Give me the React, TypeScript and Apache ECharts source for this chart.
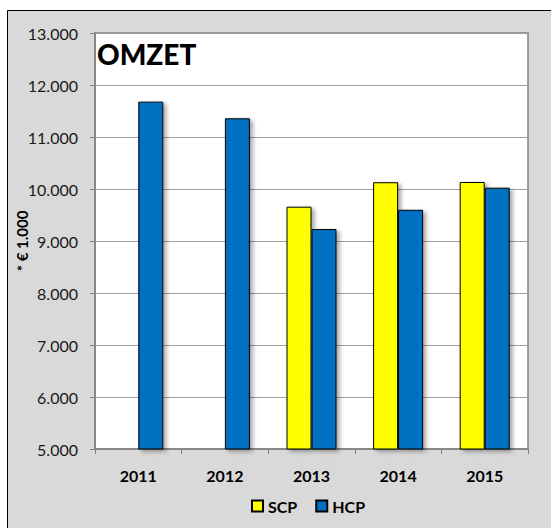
import React, { useEffect, useRef } from "react";
import * as echarts from "echarts";

const years = ["2011", "2012", "2013", "2014", "2015"];
const scpValues = [0, 0, 9660, 10130, 10135];
const hcpValues = [11680, 11360, 9230, 9600, 10025];
const yMin = 5000;
const yMax = 13000;
const yStep = 1000;
const title = "OMZET";
const yName = "* € 1.000";

const FONT = "Lato, 'Open Sans', 'Liberation Sans', sans-serif";

export default function App() {
  const ref = useRef<HTMLDivElement>(null);
  useEffect(() => {
    if (!ref.current) return;
    const chart = echarts.init(ref.current, null, { renderer: "svg" });
    const shadow = {
      shadowBlur: 4,
      shadowOffsetX: 3,
      shadowOffsetY: 2,
      shadowColor: "rgba(0,0,0,0.35)",
    };
    chart.setOption({
      animation: false,
      backgroundColor: "#ffffff",
      textStyle: { fontFamily: FONT },
      graphic: [
        {
          type: "rect",
          z: -10,
          shape: { x: 7.5, y: 10.5, width: 560, height: 530 },
          style: { fill: "#D9D9D9", stroke: "#000000", lineWidth: 1 },
        },
        {
          type: "text",
          left: 97,
          top: 40,
          z: 10,
          style: {
            text: title,
            font: `900 28px ${FONT}`,
            fill: "#000000",
          },
        },
      ],
      grid: {
        left: 95,
        top: 33,
        width: 433,
        height: 416,
        show: true,
        backgroundColor: "#ffffff",
        borderColor: "#808080",
        borderWidth: 1.5,
      },
      legend: {
        left: 246,
        top: 493,
        itemWidth: 11,
        itemHeight: 11,
        itemGap: 18,
        icon: "rect",
        textStyle: { fontFamily: FONT, fontWeight: "bold", fontSize: 16, color: "#000" },
        data: ["SCP", "HCP"],
      },
      xAxis: {
        type: "category",
        data: years,
        axisLine: { lineStyle: { color: "#808080", width: 1.5 } },
        axisTick: { show: true, length: 5, lineStyle: { color: "#808080" } },
        axisLabel: {
          margin: 18,
          fontFamily: FONT,
          fontWeight: "bold",
          fontSize: 16,
          color: "#000",
        },
      },
      yAxis: {
        type: "value",
        min: yMin,
        max: yMax,
        interval: yStep,
        name: yName,
        nameLocation: "middle",
        nameGap: 66,
        nameMoveOverlap: false,
        nameTextStyle: { fontFamily: FONT, fontWeight: "bold", fontSize: 15, color: "#000" },
        axisLine: { show: true, lineStyle: { color: "#808080", width: 1.5 } },
        axisTick: { show: true, length: 5, lineStyle: { color: "#808080" } },
        splitLine: { lineStyle: { color: "#A0A0A0", width: 1.2 } },
        axisLabel: {
          margin: 17,
          fontFamily: FONT,
          fontSize: 16,
          color: "#1a1a1a",
          formatter: (v: number) => (v / 1000).toFixed(3),
        },
      },
      series: [
        {
          name: "SCP",
          type: "bar",
          data: scpValues,
          barWidth: 25,
          barGap: "0%",
          itemStyle: { color: "#FFFF00", borderColor: "#000", borderWidth: 1, ...shadow },
        },
        {
          name: "HCP",
          type: "bar",
          data: hcpValues,
          barWidth: 25,
          itemStyle: { color: "#0070C0", borderColor: "#000", borderWidth: 1, ...shadow },
        },
      ],
    });
    return () => chart.dispose();
  }, []);
  return (
    <div
      ref={ref}
      style={{ position: "fixed", left: 0, top: 0, width: 551, height: 528 }}
    />
  );
}
